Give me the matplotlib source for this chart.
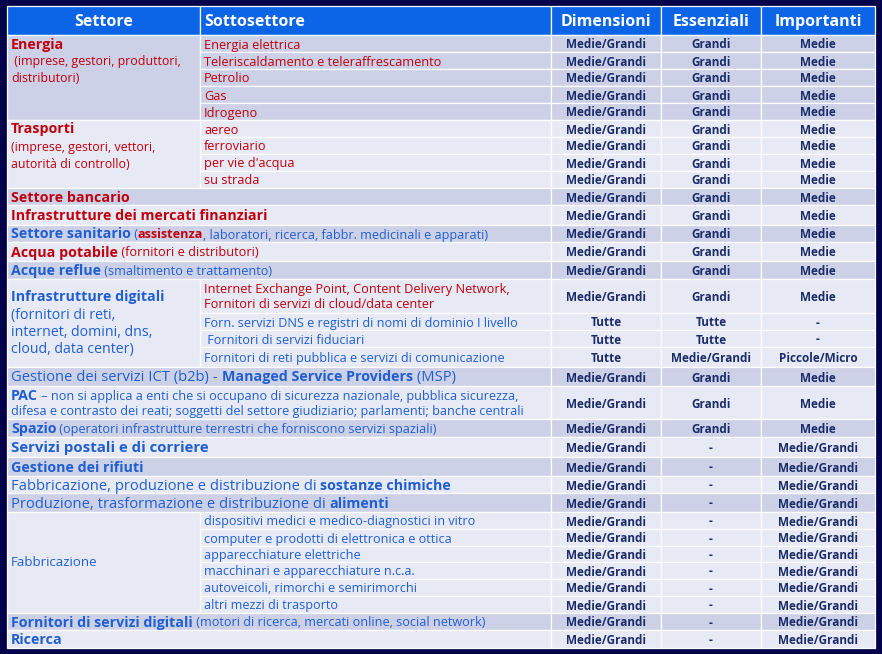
import matplotlib
matplotlib.use("Agg")
import matplotlib.pyplot as plt
from matplotlib.patches import Rectangle

plt.rcParams['font.family'] = ['Open Sans', 'DejaVu Sans']

# ---------------- data ----------------
columns = ["Settore", "Sottosettore", "Dimensioni", "Essenziali", "Importanti"]

# Settore labels: list of lines, each a list of (text, style) segments
settori = [
    [[("Energia", "RT")], [(" (imprese, gestori, produttori,", "R")], [("distributori)", "R")]],
    [[("Trasporti", "RT")], [("(imprese, gestori, vettori,", "R")], [("autorità di controllo)", "R")]],
    [[("Settore bancario", "RT")]],
    [[("Infrastrutture dei mercati finanziari", "RT")]],
    [[("Settore sanitario", "BT"), (" (", "Bs"), ("assistenza", "RTs"),
      (", laboratori, ricerca, fabbr. medicinali e apparati)", "Bs")]],
    [[("Acqua potabile", "RT"), (" (fornitori e distributori)", "Rs")]],
    [[("Acque reflue", "BT"), (" (smaltimento e trattamento)", "Bs")]],
    [[("Infrastrutture digitali", "BT")], [("(fornitori di reti,", "Bg")],
     [("internet, domini, dns,", "Bg")], [("cloud, data center)", "Bg")]],
    [[("Gestione dei servizi ICT (b2b) - ", "B"), ("Managed Service Providers", "BT"), (" (MSP)", "B")]],
    [[("PAC", "BT"), (" – non si applica a enti che si occupano di sicurezza nazionale, pubblica sicurezza,", "Bm")],
     [("difesa e contrasto dei reati; soggetti del settore giudiziario; parlamenti; banche centrali", "Bm")]],
    [[("Spazio", "BT"), (" (operatori infrastrutture terrestri che forniscono servizi spaziali)", "Bs")]],
    [[("Servizi postali e di corriere", "BTL")]],
    [[("Gestione dei rifiuti", "BT")]],
    [[("Fabbricazione, produzione e distribuzione di ", "B"), ("sostanze chimiche", "BT")]],
    [[("Produzione, trasformazione e distribuzione di ", "B"), ("alimenti", "BT")]],
    [[("Fabbricazione", "Bf")]],
    [[("Fornitori di servizi digitali", "BT"), (" (motori di ricerca, mercati online, social network)", "Bs")]],
    [[("Ricerca", "BT")]],
]

# Sottosettori per settore (None = the settore label spans both columns)
sottosettori = [
    ["Energia elettrica", "Teleriscaldamento e teleraffrescamento", "Petrolio", "Gas", "Idrogeno"],
    ["aereo", "ferroviario", "per vie d'acqua", "su strada"],
    None, None, None, None, None,
    ["Internet Exchange Point, Content Delivery Network,\nFornitori di servizi di cloud/data center",
     "Forn. servizi DNS e registri di nomi di dominio I livello",
     " Fornitori di servizi fiduciari",
     "Fornitori di reti pubblica e servizi di comunicazione"],
    None, None, None, None, None, None, None,
    ["dispositivi medici e medico-diagnostici in vitro",
     "computer e prodotti di elettronica e ottica",
     "apparecchiature elettriche",
     "macchinari e apparecchiature n.c.a.",
     "autoveicoli, rimorchi e semirimorchi",
     "altri mezzi di trasporto"],
    None, None,
]
sottosettori_style = ["Rs", "Rs", None, None, None, None, None,
                      ["Rs", "Bs", "Bs", "Bs"],
                      None, None, None, None, None, None, None, "Bs", None, None]

dimensioni = (["Medie/Grandi"] * 15 + ["Tutte", "Tutte", "Tutte"] +
              ["Medie/Grandi"] * 3 + ["Medie/Grandi"] * 12)
essenziali = (["Grandi"] * 15 + ["Tutte", "Tutte", "Medie/Grandi"] +
              ["Grandi"] * 3 + ["-"] * 12)
importanti = (["Medie"] * 15 + ["-", "-", "Piccole/Micro"] +
              ["Medie"] * 3 + ["Medie/Grandi"] * 12)

# ---------------- layout / style ----------------
W, H = 882, 654
BG = '#03034b'
HEAD = '#0c64e6'
DARK = '#cdd1e8'
LIGHT = '#e7e9f4'
RED = '#c0000c'
BLUE = '#1f5fd2'
NAVY = '#1b2c6a'

STY = {
    'RT': (RED, 'bold', 10.3),
    'RTs': (RED, 'bold', 9.1),
    'R': (RED, 'normal', 8.9),
    'Rs': (RED, 'normal', 9.2),
    'BT': (BLUE, 'bold', 10.3),
    'BTL': (BLUE, 'bold', 10.8),
    'B': (BLUE, 'normal', 10.6),
    'Bg': (BLUE, 'normal', 10.2),
    'Bm': (BLUE, 'normal', 9.05),
    'Bs': (BLUE, 'normal', 9.1),
    'Bf': (BLUE, 'normal', 9.6),
}
DATA_SIZE = 8.5
HEAD_SIZE = 11.5
settore_valign = ['top', 'top'] + ['center'] * 16

col_edges = [7, 200, 551, 661, 761, 875]
header_top, header_bottom = 6, 35
row_edges = [35, 52, 69, 86, 103, 120, 137, 154, 171, 188, 205, 225, 242, 261, 279,
             313, 330, 347, 367, 386, 419, 437, 457, 476, 493, 512, 529, 546, 562,
             579, 596, 613, 630, 648]
PAD_L = 4
BASE_OFF = 5
LS_CELL = 15
LS_GROUP = 17

fig = plt.figure(figsize=(W / 100, H / 100), dpi=100, facecolor=BG)
ax = fig.add_axes([0, 0, 1, 1])
ax.set_xlim(0, W)
ax.set_ylim(H, 0)
ax.axis('off')
ax.set_facecolor(BG)
renderer = fig.canvas.get_renderer()


def seg_width(text, style):
    color, weight, size = STY[style]
    t1 = ax.text(0, 0, "|" + text + "|", fontsize=size, fontweight=weight)
    t2 = ax.text(0, 0, "||", fontsize=size, fontweight=weight)
    w = t1.get_window_extent(renderer).width - t2.get_window_extent(renderer).width
    t1.remove()
    t2.remove()
    return w


def draw_rich(x, yb, segs):
    for text, style in segs:
        color, weight, size = STY[style]
        ax.text(x, yb, text, fontsize=size, fontweight=weight, color=color,
                ha='left', va='baseline')
        x += seg_width(text, style)


def cell(x0, x1, y0, y1, fc):
    ax.add_patch(Rectangle((x0, y0), x1 - x0, y1 - y0, facecolor=fc,
                           edgecolor='white', linewidth=0.9))


# header
cell(col_edges[0], col_edges[1], header_top, header_bottom, HEAD)
cell(col_edges[1], col_edges[2], header_top, header_bottom, HEAD)
for c in range(2, 5):
    cell(col_edges[c], col_edges[c + 1], header_top, header_bottom, HEAD)
hy = (header_top + header_bottom) / 2 + 6
for c, name in enumerate(columns):
    if c == 1:
        ax.text(col_edges[1] + PAD_L, hy, name, color='white', fontsize=HEAD_SIZE,
                fontweight='bold', ha='left', va='baseline')
    else:
        ax.text((col_edges[c] + col_edges[c + 1]) / 2, hy, name, color='white',
                fontsize=HEAD_SIZE, fontweight='bold', ha='center', va='baseline')

r = 0
for g, lines in enumerate(settori):
    fc = DARK if g % 2 == 0 else LIGHT
    subs = sottosettori[g]
    n = 1 if subs is None else len(subs)
    top, bot = row_edges[r], row_edges[r + n]
    if subs is None:
        cell(col_edges[0], col_edges[2], top, bot, fc)
        mid = (top + bot) / 2
        for i, segs in enumerate(lines):
            yb = mid + (i - (len(lines) - 1) / 2) * LS_CELL + BASE_OFF
            draw_rich(col_edges[0] + PAD_L, yb, segs)
    else:
        cell(col_edges[0], col_edges[1], top, bot, fc)
        if settore_valign[g] == 'top':
            for i, segs in enumerate(lines):
                yb = (row_edges[r + i] + row_edges[r + i + 1]) / 2 + BASE_OFF
                draw_rich(col_edges[0] + PAD_L, yb, segs)
        else:
            mid = (top + bot) / 2
            for i, segs in enumerate(lines):
                yb = mid + (i - (len(lines) - 1) / 2) * LS_GROUP + BASE_OFF - 1
                draw_rich(col_edges[0] + PAD_L, yb, segs)
        st = sottosettori_style[g]
        for k, txt in enumerate(subs):
            s = st[k] if isinstance(st, list) else st
            y0, y1 = row_edges[r + k], row_edges[r + k + 1]
            cell(col_edges[1], col_edges[2], y0, y1, fc)
            sl = txt.split("\n")
            m = (y0 + y1) / 2
            for i, line in enumerate(sl):
                yb = m + (i - (len(sl) - 1) / 2) * LS_CELL + BASE_OFF
                draw_rich(col_edges[1] + PAD_L, yb, [(line, s)])
    for k in range(n):
        y0, y1 = row_edges[r + k], row_edges[r + k + 1]
        for c, vals in zip(range(2, 5), (dimensioni, essenziali, importanti)):
            cell(col_edges[c], col_edges[c + 1], y0, y1, fc)
            ax.text((col_edges[c] + col_edges[c + 1]) / 2, (y0 + y1) / 2 + BASE_OFF,
                    vals[r + k], color=NAVY, fontsize=DATA_SIZE, fontweight='bold',
                    ha='center', va='baseline')
    r += n

fig.savefig("out.png", dpi=100, facecolor=BG)
